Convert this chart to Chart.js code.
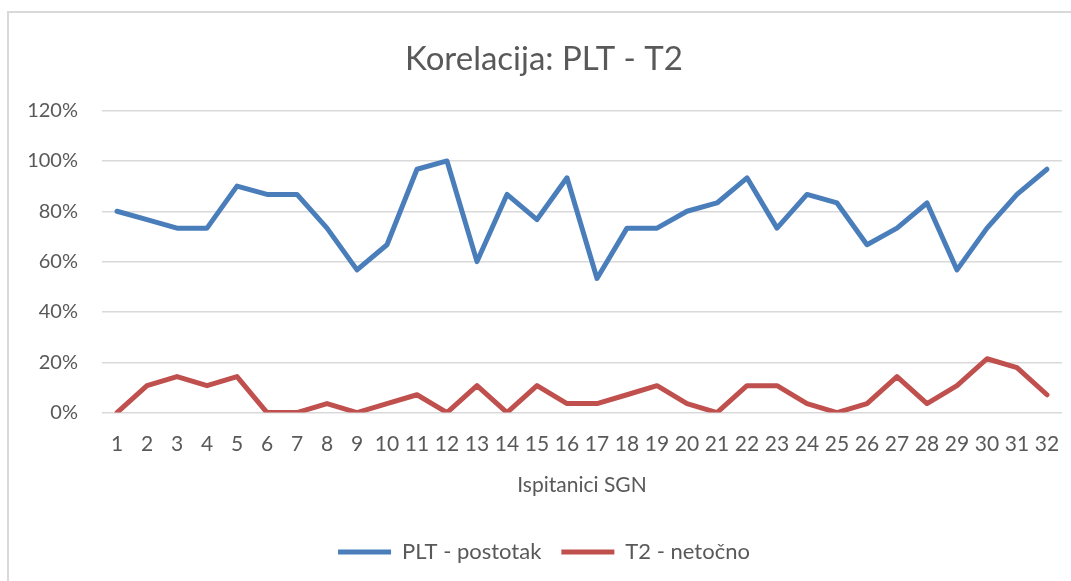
<!DOCTYPE html>
<html>
<head>
<meta charset="utf-8">
<script src="https://cdn.jsdelivr.net/npm/chart.js@4/dist/chart.umd.min.js"></script>
<style>
  body { margin: 0; background: #fff; overflow: hidden; }
  #okvir { position: absolute; left: 7px; top: 11px; width: 1100px; height: 620px; border: 2px solid #d9d9d9; }
  #graf { position: absolute; left: 0; top: 0; }
</style>
</head>
<body>
<div id="okvir"></div>
<canvas id="graf" width="1100" height="581"></canvas>
<script>
// Podaci za grafikon
const ispitanici = ['1','2','3','4','5','6','7','8','9','10','11','12','13','14','15','16',
    '17','18','19','20','21','22','23','24','25','26','27','28','29','30','31','32'];
const pltPostotak = [80, 76.7, 73.3, 73.3, 90, 86.7, 86.7, 73.3, 56.7, 66.7, 96.7, 100, 60, 86.7, 76.7, 93.3,
    53.3, 73.3, 73.3, 80, 83.3, 93.3, 73.3, 86.7, 83.3, 66.7, 73.3, 83.3, 56.7, 73.3, 86.7, 96.7];
const t2Netocno = [0, 10.7, 14.3, 10.7, 14.3, 0, 0, 3.6, 0, 3.6, 7.1, 0, 10.7, 0, 10.7, 3.6,
    3.6, 7.1, 10.7, 3.6, 0, 10.7, 10.7, 3.6, 0, 3.6, 14.3, 3.6, 10.7, 21.4, 17.9, 7.1];
const yMin = 0, yMax = 120, yKorak = 20;

const sivaTekst = '#595959';
const font = 'Lato, "Open Sans", sans-serif';

function napraviSeriju(naziv, podaci, boja) {
    return {
        label: naziv,
        data: podaci,
        borderColor: boja,
        backgroundColor: boja,
        borderWidth: 5,
        pointRadius: 0,
        tension: 0,
        borderCapStyle: 'round',
        borderJoinStyle: 'round'
    };
}

new Chart(document.getElementById('graf'), {
    type: 'line',
    data: {
        labels: ispitanici,
        datasets: [
            napraviSeriju('PLT - postotak', pltPostotak, '#4a7ebb'),
            napraviSeriju('T2 - netočno', t2Netocno, '#c0504d')
        ]
    },
    options: {
        responsive: false,
        animation: false,
        layout: { padding: { left: 26, right: 38, top: 0, bottom: 8 } },
        plugins: {
            title: {
                display: true,
                text: 'Korelacija: PLT - T2',
                color: sivaTekst,
                font: { family: font, size: 33, weight: 'normal' },
                padding: { top: 40, bottom: 31 }
            },
            legend: {
                position: 'bottom',
                labels: {
                    color: sivaTekst,
                    font: { family: font, size: 22 },
                    boxWidth: 53,
                    boxHeight: 5,
                    padding: 20,
                    generateLabels: function(chart) {
                        const stavke = Chart.defaults.plugins.legend.labels.generateLabels(chart);
                        stavke.forEach(s => { s.lineWidth = 0; s.fillStyle = s.strokeStyle; });
                        return stavke;
                    }
                }
            },
            tooltip: { enabled: false }
        },
        scales: {
            x: {
                offset: true,
                grid: { display: false, drawTicks: false },
                border: { display: false },
                ticks: { color: sivaTekst, font: { family: font, size: 21 }, padding: 19, maxRotation: 0, autoSkip: false },
                title: {
                    display: true,
                    text: 'Ispitanici SGN',
                    color: sivaTekst,
                    font: { family: font, size: 21 },
                    padding: { top: -3, bottom: 23 }
                }
            },
            y: {
                min: yMin,
                max: yMax,
                ticks: {
                    stepSize: yKorak,
                    color: sivaTekst,
                    font: { family: font, size: 20 },
                    padding: 24,
                    callback: v => v + '%'
                },
                grid: { color: '#d9d9d9', lineWidth: 1.5, drawTicks: false },
                border: { display: false },
                afterFit: s => { s.width = 76; }
            }
        }
    }
});
</script>
</body>
</html>
